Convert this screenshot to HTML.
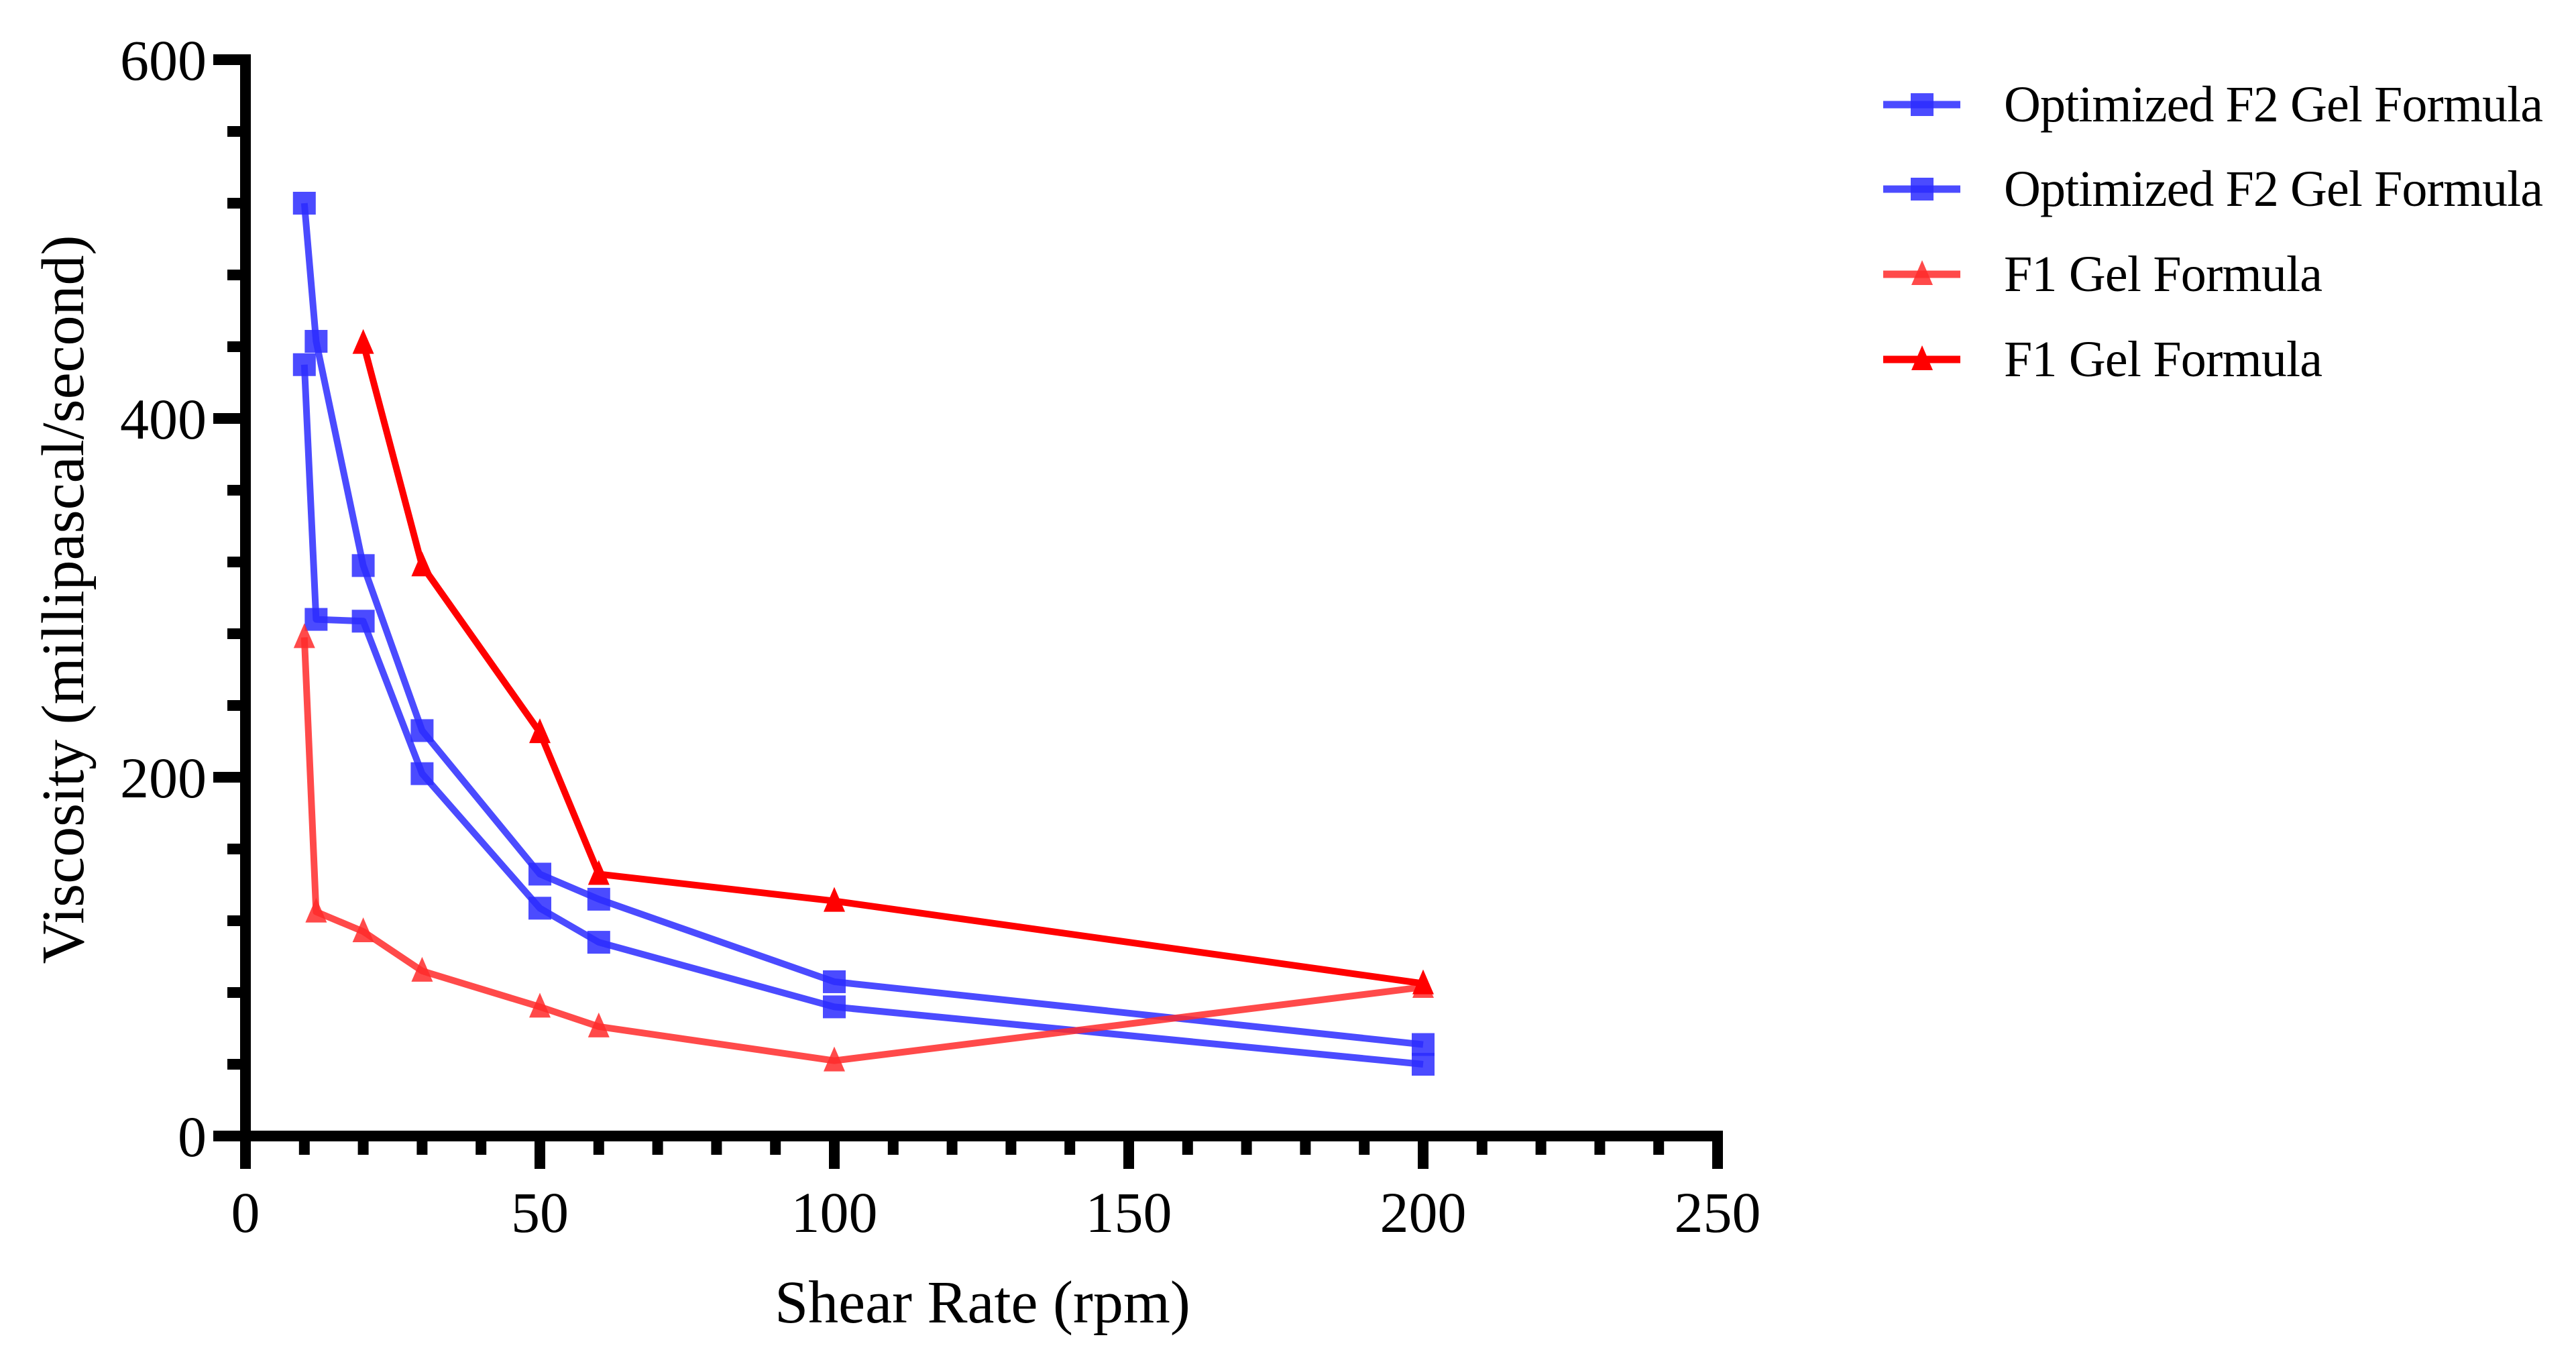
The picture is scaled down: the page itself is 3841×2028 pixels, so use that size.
<!DOCTYPE html>
<html><head><meta charset="utf-8"><style>
html,body{margin:0;padding:0;background:#fff;}
svg{display:block;font-family:"Liberation Serif",serif;}
</style></head><body>
<svg id="chart" width="3841" height="2028" viewBox="0 0 3841 2028" xmlns="http://www.w3.org/2000/svg">
<g id="plot"></g>
<g id="axes"></g>
<g id="legend"></g>
<text x="1465" y="1972" font-size="90" text-anchor="middle">Shear Rate (rpm)</text>
<text transform="translate(124,894) rotate(-90)" font-size="90" text-anchor="middle">Viscosity (millipascal/second)</text>
</svg>
<script>
const xTicks = [0, 50, 100, 150, 200, 250];
const yTicks = [0, 200, 400, 600];
const f2aX = [10, 12, 20, 30, 50, 60, 100, 200];
const f2aY = [520, 443, 318, 226, 146, 132, 86, 51];
const f2bX = [10, 12, 20, 30, 50, 60, 100, 200];
const f2bY = [430, 288, 287, 202, 127, 108, 72, 40];
const f1aX = [10, 12, 20, 30, 50, 60, 100, 200];
const f1aY = [278, 125, 114, 92, 72, 61, 42, 83];
const f1bX = [20, 30, 50, 60, 100, 200];
const f1bY = [442, 318, 225, 146, 131, 85];
const legendLabels = ["Optimized F2 Gel Formula", "Optimized F2 Gel Formula", "F1 Gel Formula", "F1 Gel Formula"];

const NS = "http://www.w3.org/2000/svg";
const X0 = 366, X1 = 2561, Y0 = 1694, Y1 = 89;
const sx = v => X0 + (v / 250) * (X1 - X0);
const sy = v => Y0 - (v / 600) * (Y0 - Y1);
function mk(tag, attrs, parent) {
  const e = document.createElementNS(NS, tag);
  for (const k in attrs) e.setAttribute(k, attrs[k]);
  parent.appendChild(e);
  return e;
}
const plot = document.getElementById("plot");
const axes = document.getElementById("axes");
const legend = document.getElementById("legend");

const series = [
  {xs: f2aX, ys: f2aY, color: "#2b2bff", op: 0.85, m: "sq", name: "series-f2-a"},
  {xs: f2bX, ys: f2bY, color: "#2b2bff", op: 0.85, m: "sq", name: "series-f2-b"},
  {xs: f1aX, ys: f1aY, color: "#ff2a2a", op: 0.85, m: "tri", name: "series-f1-a"},
  {xs: f1bX, ys: f1bY, color: "#ff0000", op: 1, m: "tri", name: "series-f1-b"}
];
function marker(type, cx, cy, color, op, parent) {
  let el;
  if (type === "sq") {
    el = mk("rect", {x: cx - 17, y: cy - 17, width: 34, height: 34, fill: color, "fill-opacity": op}, parent);
  } else {
    el = mk("polygon", {points: `${cx},${cy - 21} ${cx - 16},${cy + 16} ${cx + 16},${cy + 16}`, fill: color, "fill-opacity": op}, parent);
  }
  return el;
}
series.forEach(s => {
  const g = mk("g", {}, plot);
  
  
  const pts = s.xs.map((x, i) => `${sx(x)},${sy(s.ys[i])}`).join(" ");
  const pl = mk("polyline", {points: pts, fill: "none", stroke: s.color, "stroke-opacity": s.op, "stroke-width": 10, "stroke-linejoin": "round"}, g);
  
  
  s.xs.forEach((x, i) => {
    const m = marker(s.m, sx(x), sy(s.ys[i]), s.color, s.op, g);
    
    
  });
});

const ya = mk("line", {x1: X0, y1: Y1 - 8, x2: X0, y2: Y0 + 48, stroke: "#000", "stroke-width": 16}, axes);


const xa = mk("line", {x1: X0 - 48, y1: Y0, x2: X1 + 8, y2: Y0, stroke: "#000", "stroke-width": 16}, axes);


for (let v = 0; v <= 250; v += 10) {
  const major = v % 50 === 0;
  const t = mk("line", {x1: sx(v), y1: Y0, x2: sx(v), y2: Y0 + (major ? 49 : 28), stroke: "#000", "stroke-width": 16}, axes);
  
  
}
for (let v = 0; v <= 600; v += 40) {
  const t = mk("line", {x1: X0, y1: sy(v), x2: X0 - 27, y2: sy(v), stroke: "#000", "stroke-width": 16}, axes);
  
  
}
yTicks.forEach(v => {
  const t = mk("line", {x1: X0, y1: sy(v), x2: X0 - 48, y2: sy(v), stroke: "#000", "stroke-width": 16}, axes);
  
  
  const l = mk("text", {x: 308, y: sy(v) + 30, "font-size": 86, "text-anchor": "end"}, axes);
  l.textContent = v;
  
  
});
xTicks.forEach(v => {
  const l = mk("text", {x: sx(v), y: 1837, "font-size": 86, "text-anchor": "middle"}, axes);
  l.textContent = v;
  
  
});

const legY = [156, 282, 409, 536];
legendLabels.forEach((lab, i) => {
  const s = series[i];
  const g = mk("g", {}, legend);
  
  
  mk("line", {x1: 2808, y1: legY[i], x2: 2923, y2: legY[i], stroke: s.color, "stroke-opacity": s.op, "stroke-width": 11}, g);
  marker(s.m, 2866, legY[i], s.color, s.op, g);
  const t = mk("text", {x: 2988, y: legY[i] + 25, "font-size": 76}, g);
  t.textContent = lab;
  if (i < 2) t.setAttribute("textLength", 804);
  else t.setAttribute("textLength", 475);
  
  
});
</script>
</body></html>
